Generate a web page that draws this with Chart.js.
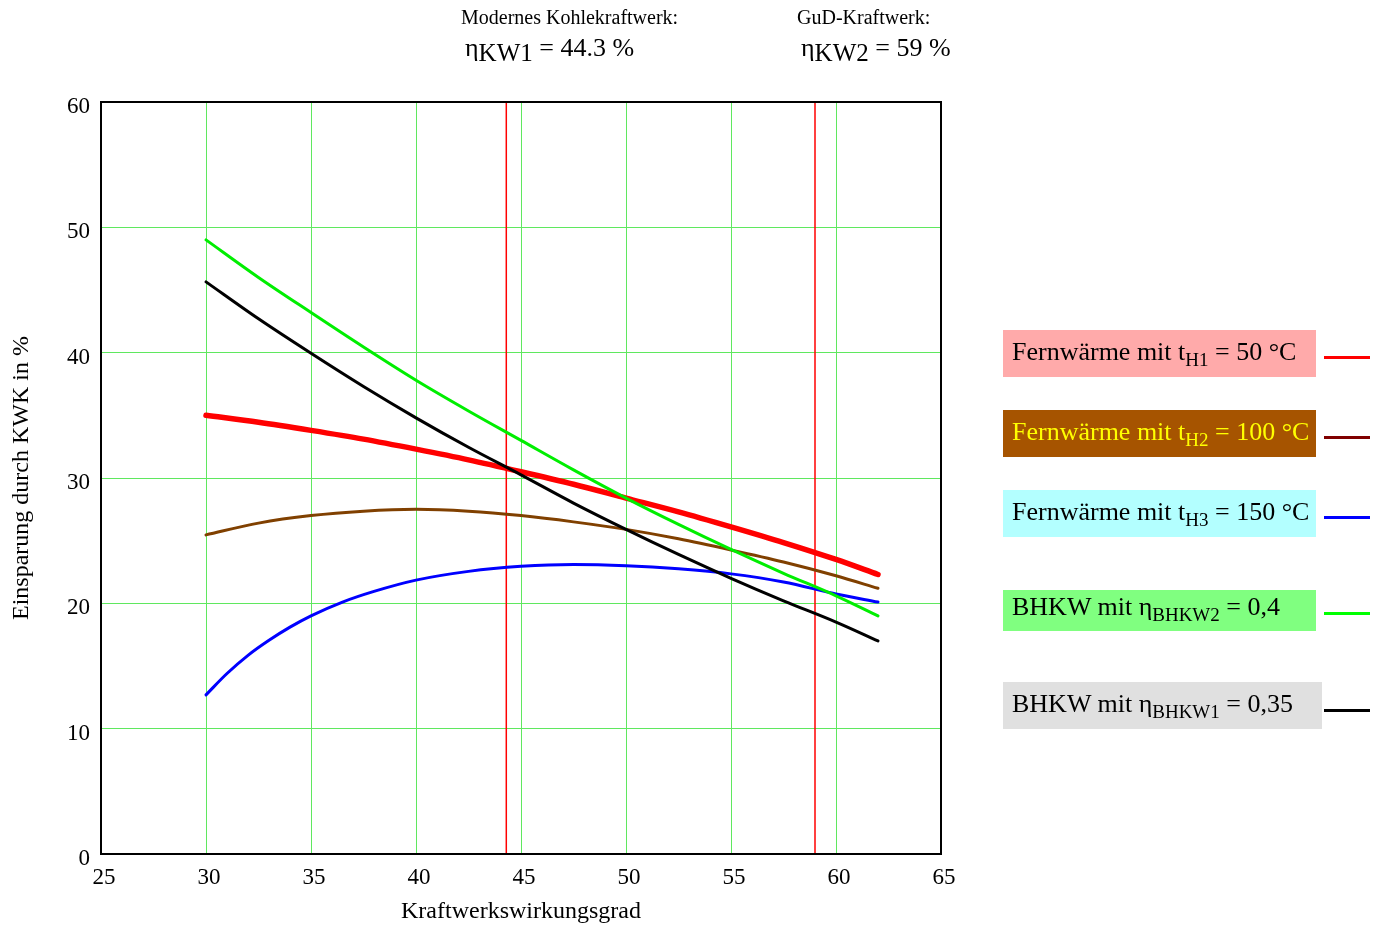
<!DOCTYPE html>
<html>
<head>
<meta charset="utf-8">
<script src="https://cdn.jsdelivr.net/npm/chart.js@4/dist/chart.umd.min.js"></script>
<style>
  html, body { margin:0; padding:0; background:#fff; }
  body { width:1381px; height:926px; position:relative; overflow:hidden; font-family:"Liberation Serif", "Times New Roman", serif; color:#000; }
  #wrap { position:absolute; left:0; top:0; width:1381px; height:926px; }
  .note { position:absolute; white-space:nowrap; }
  .small { font-size:20px; }
  .big { font-size:26px; }
  .eta-sub { position:relative; top:5px; font-size:25px; }
  .box { position:absolute; left:1003px; box-sizing:border-box; font-size:26px; white-space:nowrap; }
  .box .t { position:absolute; left:9px; line-height:26px; }
  .box sub { font-size:19px; vertical-align:-6px; line-height:0; }
  .sample { position:absolute; left:1324px; width:46px; height:3px; }
</style>
</head>
<body>
<div id="wrap"><canvas id="c" width="1381" height="926"></canvas></div>

<div class="note small" style="left:461px; top:6px;">Modernes Kohlekraftwerk:</div>
<div class="note big" style="left:465px; top:33px;">η<span class="eta-sub">KW1</span> = 44.3 %</div>
<div class="note small" style="left:797px; top:6px;">GuD-Kraftwerk:</div>
<div class="note big" style="left:801px; top:33px;">η<span class="eta-sub">KW2</span> = 59 %</div>

<div id="legend"></div>

<script>
// ---- data ----
const xValues = [30, 32.5, 35, 37.5, 40, 42.5, 45, 47.5, 50, 52.5, 55, 57.5, 60, 62];
const fernwaerme50  = [35.0, 34.45, 33.8, 33.1, 32.3, 31.45, 30.5, 29.5, 28.4, 27.3, 26.1, 24.85, 23.5, 22.3];
const fernwaerme100 = [25.46, 26.4, 27.0, 27.35, 27.5, 27.35, 27.0, 26.5, 25.9, 25.15, 24.26, 23.3, 22.2, 21.2];
const bhkw040       = [49.0, 46.0, 43.2, 40.45, 37.8, 35.35, 33.0, 30.65, 28.4, 26.3, 24.3, 22.4, 20.6, 19.0];
const bhkw035       = [45.65, 42.7, 39.95, 37.3, 34.8, 32.45, 30.25, 28.0, 25.9, 23.9, 22.0, 20.2, 18.5, 17.0];
const xValues150    = [30, 31, 32, 33, 34, 35, 36.5, 38, 40, 42.5, 45, 47.5, 50, 52.5, 55, 57.5, 60, 62];
const fernwaerme150 = [12.7, 14.4, 15.85, 17.05, 18.1, 19.0, 20.1, 20.95, 21.85, 22.55, 22.95, 23.1, 23.0, 22.75, 22.35, 21.7, 20.75, 20.1];
const markerEfficiencies = [44.3, 59];   // eta_KW1, eta_KW2
const xTickRange = [25, 65, 5];
const yTickRange = [0, 60, 10];

const legendItems = [
  { html: 'Fernwärme mit t<sub>H1</sub> = 50 °C',  bg:'#ffaaaa', fg:'#000', line:'#ff0000', top:330, h:47, w:313 },
  { html: 'Fernwärme mit t<sub>H2</sub> = 100 °C', bg:'#a65400', fg:'#ffff00', line:'#800000', top:410, h:47, w:313 },
  { html: 'Fernwärme mit t<sub>H3</sub> = 150 °C', bg:'#b3ffff', fg:'#000', line:'#0000ff', top:490, h:47, w:313 },
  { html: 'BHKW mit η<sub>BHKW2</sub> = 0,4',      bg:'#80ff80', fg:'#000', line:'#00ff00', top:590, h:41, w:313 },
  { html: 'BHKW mit η<sub>BHKW1</sub> = 0,35',     bg:'#e0e0e0', fg:'#000', line:'#000000', top:682, h:47, w:319 }
];
const legendTextOffset = [9, 9, 9, 4, 9];
const legendLineY = [357, 437, 517, 613, 710];

// legend (HTML text boxes + line samples)
const lg = document.getElementById('legend');
legendItems.forEach((it, i) => {
  const b = document.createElement('div');
  b.className = 'box';
  b.style.top = it.top + 'px'; b.style.height = it.h + 'px'; b.style.width = it.w + 'px';
  b.style.background = it.bg; b.style.color = it.fg;
  const t = document.createElement('div');
  t.className = 't'; t.style.top = legendTextOffset[i] + 'px';
  t.innerHTML = it.html;
  b.appendChild(t);
  lg.appendChild(b);
  const s = document.createElement('div');
  s.className = 'sample';
  s.style.top = (legendLineY[i] - 1) + 'px';
  s.style.background = it.line;
  lg.appendChild(s);
});

const pts = (xs, arr) => arr.map((y, i) => ({ x: xs[i], y }));
const curve = (label, xs, data, color, width) => ({
  label, data: pts(xs, data), borderColor: color, backgroundColor: color,
  borderWidth: width, pointRadius: 0, fill: false,
  cubicInterpolationMode: 'monotone', borderCapStyle: 'round', borderJoinStyle: 'round'
});
const marker = (x) => ({
  label: 'marker ' + x, data: [{ x, y: yTickRange[0] }, { x, y: yTickRange[1] }],
  borderColor: '#ff0000', borderWidth: 1.5, pointRadius: 0, fill: false
});

const borderPlugin = {
  id: 'frame',
  afterDraw(chart) {
    const { ctx, chartArea: a } = chart;
    ctx.save();
    ctx.strokeStyle = '#000';
    ctx.lineWidth = 2;
    ctx.strokeRect(a.left, a.top, a.right - a.left, a.bottom - a.top);
    ctx.restore();
  }
};

const serif = '"Liberation Serif", "Times New Roman", serif';
const tickFont = { family: serif, size: 23 };
const gridColor = '#5fe85f';

new Chart(document.getElementById('c'), {
  type: 'line',
  data: {
    datasets: [
      curve('BHKW mit ηBHKW1 = 0,35', xValues, bhkw035, '#000000', 3),
      curve('BHKW mit ηBHKW2 = 0,4', xValues, bhkw040, '#00ee00', 3),
      curve('Fernwärme mit tH3 = 150 °C', xValues150, fernwaerme150, '#0000ff', 3),
      curve('Fernwärme mit tH2 = 100 °C', xValues, fernwaerme100, '#804000', 3),
      curve('Fernwärme mit tH1 = 50 °C', xValues, fernwaerme50, '#ff0000', 5.5),
      ...markerEfficiencies.map(marker)
    ]
  },
  options: {
    responsive: false,
    animation: false,
    devicePixelRatio: 1,
    layout: { padding: { top: 102, right: 440, bottom: 0, left: 0 } },
    plugins: { legend: { display: false }, tooltip: { enabled: false } },
    scales: {
      x: {
        type: 'linear', min: xTickRange[0], max: xTickRange[1],
        afterFit(s) { s.height = 72; },
        ticks: { stepSize: xTickRange[2], color: '#000', font: tickFont, padding: 10, labelOffset: 3, maxRotation: 0 },
        grid: { color: gridColor, lineWidth: 1, drawTicks: false },
        border: { display: false },
        title: { display: true, text: 'Kraftwerkswirkungsgrad', color: '#000',
                 font: { family: serif, size: 24 }, padding: { top: 0, bottom: 0 } }
      },
      y: {
        type: 'linear', min: yTickRange[0], max: yTickRange[1],
        afterFit(s) { s.width = 101; },
        ticks: { stepSize: yTickRange[2], color: '#000', font: tickFont, padding: 11, labelOffset: 5 },
        grid: { color: gridColor, lineWidth: 1, drawTicks: false },
        border: { display: false },
        title: { display: true, text: 'Einsparung durch KWK in %', color: '#000',
                 font: { family: serif, size: 24 }, padding: { top: 7, bottom: 0 } }
      }
    }
  },
  plugins: [borderPlugin]
});
</script>
</body>
</html>
